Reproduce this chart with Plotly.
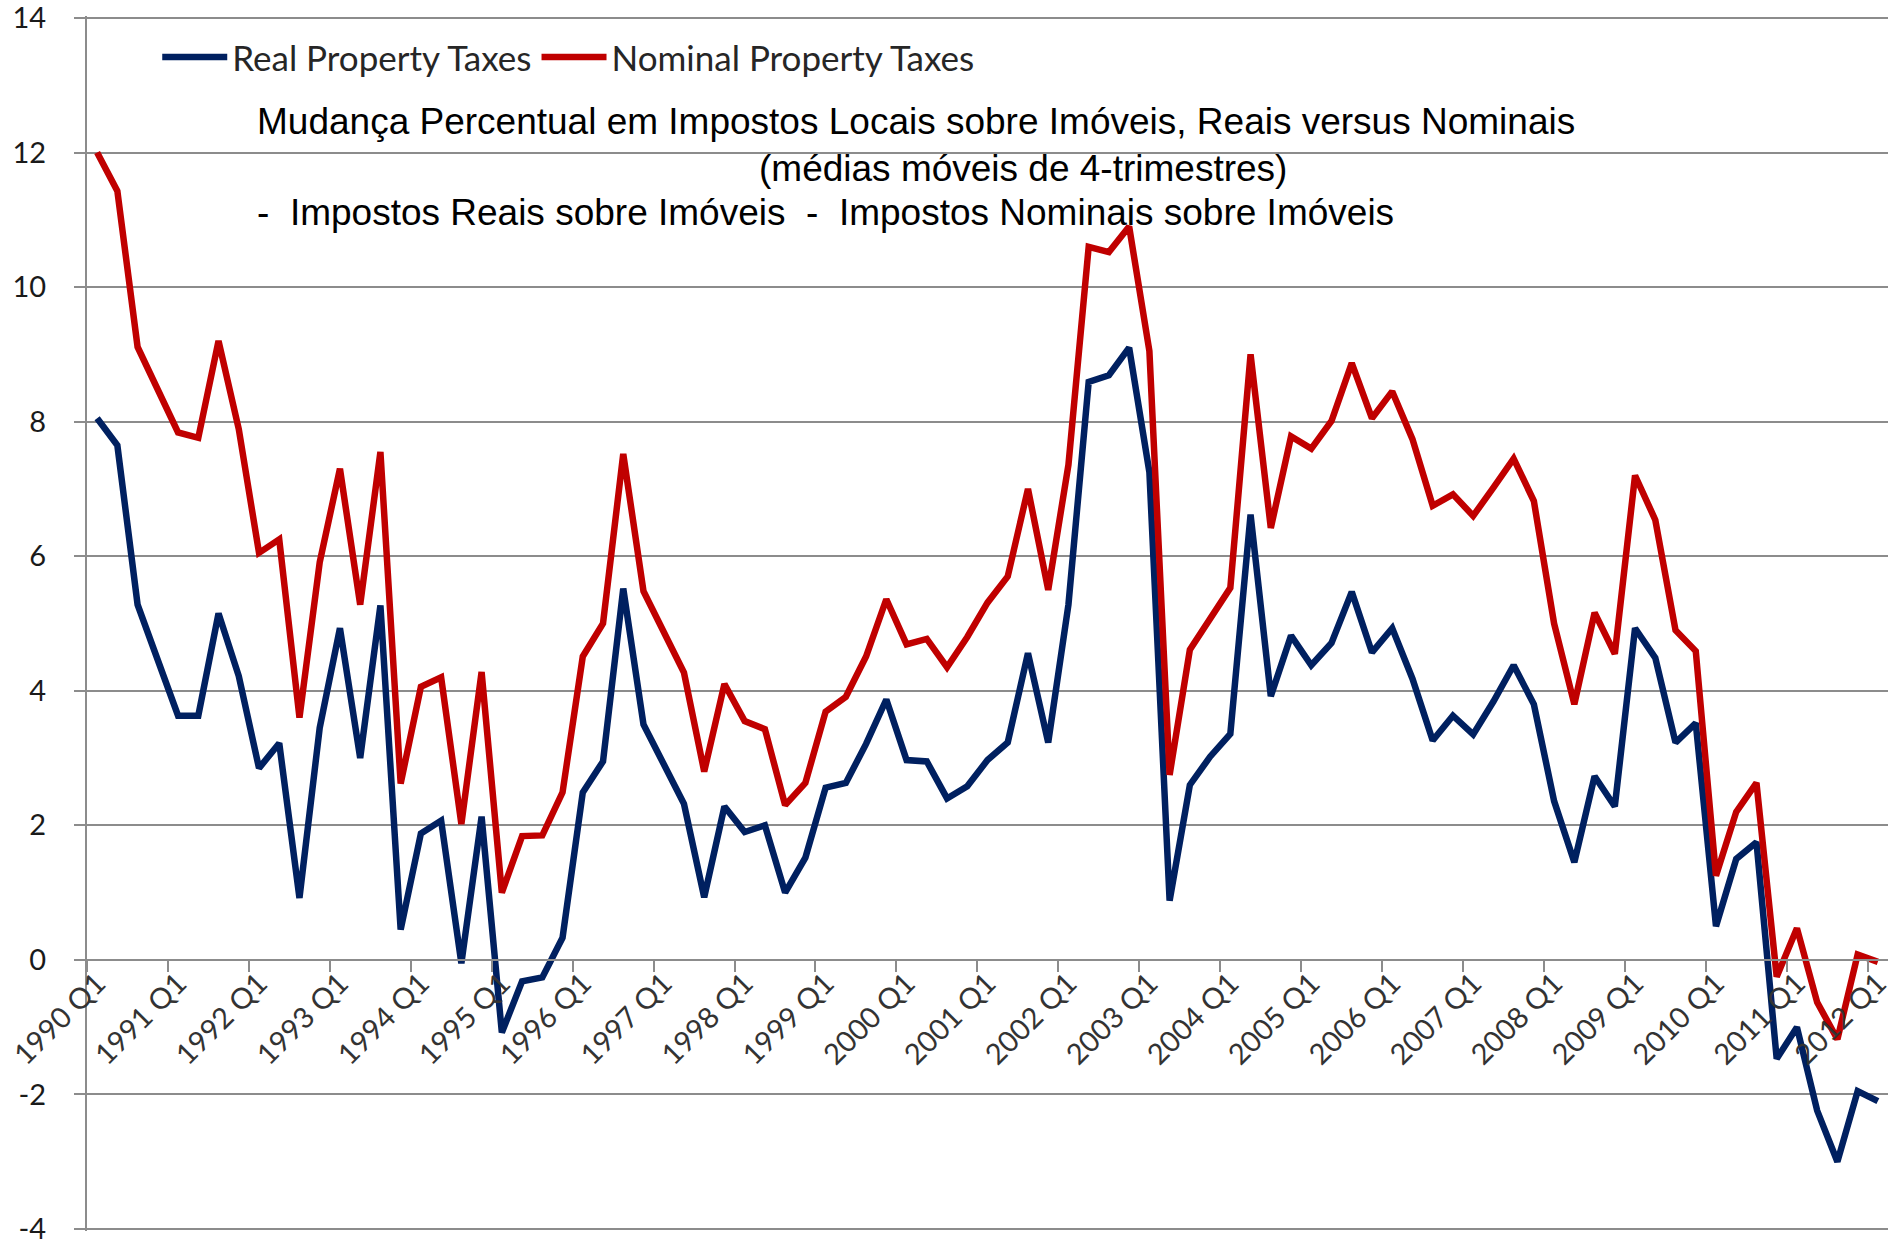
import plotly.graph_objects as go

years = list(range(1990, 2013))
quarters = [f"{y} Q{q}" for y in years for q in range(1, 5)][:89]

real = [8.05, 7.65, 5.28, 4.46, 3.63, 3.63, 5.15, 4.22, 2.85, 3.22,
        0.92, 3.45, 4.93, 3.0, 5.27, 0.45, 1.88, 2.07, -0.05, 2.13,
        -1.08, -0.32, -0.26, 0.33, 2.49, 2.95, 5.52, 3.5, 2.92, 2.32,
        0.93, 2.28, 1.9, 2.0, 1.0, 1.52, 2.56, 2.63, 3.21, 3.87,
        2.97, 2.95, 2.4, 2.58, 2.97, 3.23, 4.56, 3.23, 5.28, 8.59,
        8.69, 9.1, 7.25, 0.88, 2.6, 3.02, 3.36, 6.62, 3.92, 4.82,
        4.38, 4.71, 5.47, 4.57, 4.93, 4.18, 3.26, 3.63, 3.35, 3.84,
        4.38, 3.8, 2.36, 1.45, 2.73, 2.28, 4.93, 4.49, 3.23, 3.52,
        0.5, 1.5, 1.75, -1.47, -1.0, -2.24, -3.0, -1.95, -2.1]

nominal = [12.0, 11.43, 9.11, 8.47, 7.84, 7.76, 9.2, 7.89, 6.05, 6.25,
           3.6, 5.91, 7.3, 5.28, 7.55, 2.62, 4.06, 4.2, 2.02, 4.28,
           1.0, 1.84, 1.85, 2.49, 4.51, 5.0, 7.52, 5.48, 4.88, 4.27,
           2.8, 4.1, 3.55, 3.43, 2.3, 2.63, 3.69, 3.91, 4.51, 5.36,
           4.69, 4.77, 4.35, 4.8, 5.31, 5.7, 7.0, 5.5, 7.36, 10.6,
           10.52, 10.9, 9.05, 2.75, 4.61, 5.09, 5.53, 9.0, 6.42, 7.78,
           7.6, 8.01, 8.87, 8.05, 8.45, 7.74, 6.75, 6.92, 6.6, 7.02,
           7.45, 6.82, 5.0, 3.8, 5.16, 4.55, 7.2, 6.54, 4.9, 4.59,
           1.25, 2.2, 2.63, -0.25, 0.47, -0.63, -1.18, 0.08, -0.03]

y_ticks = [-4, -2, 0, 2, 4, 6, 8, 10, 12, 14]
y_ticktext = ["-4", "-2", "0", "2", "4", "6", "8", "10", "12", "14"]

title_lines = [
    "Mudança Percentual em Impostos Locais sobre Imóveis, Reais versus Nominais",
    "(médias móveis de 4-trimestres)",
    "-\u00a0\u00a0Impostos Reais sobre Imóveis\u00a0\u00a0-\u00a0\u00a0Impostos Nominais sobre Imóveis",
]

idx = list(range(len(quarters)))

fig = go.Figure()
fig.add_trace(go.Scatter(x=idx, y=real, mode="lines", name="Real Property Taxes",
                         line=dict(color="#002060", width=6.5)))
fig.add_trace(go.Scatter(x=idx, y=nominal, mode="lines", name="Nominal Property Taxes",
                         line=dict(color="#C00000", width=6.5)))

grid = "#8c8c8c"
y_lo, y_hi = -4.03, 14.03
fig.update_layout(
    width=1895, height=1241,
    margin=dict(l=87, r=7, t=16, b=10, autoexpand=False),
    paper_bgcolor="white", plot_bgcolor="white",
    showlegend=True,
    legend=dict(orientation="h", x=0.039, xanchor="left", y=0.966, yanchor="middle",
                font=dict(family="Lato", size=35, color="#262626"),
                bgcolor="rgba(0,0,0,0)", itemwidth=65, tracegroupgap=0),
    xaxis=dict(range=[-0.5, 88.5], tickmode="array", tickvals=idx[::4],
               ticktext=quarters[::4], tickangle=-45, ticks="",
               showgrid=False, zeroline=False, showline=True, linecolor=grid,
               linewidth=2, anchor="free", position=(0 - y_lo) / (y_hi - y_lo),
               ticklabelstandoff=-6, automargin=False,
               tickfont=dict(family="Lato", size=29, color="#333333"),
               minor=dict(tickmode="linear", tick0=-0.5, dtick=4, ticks="outside",
                          ticklen=11, tickwidth=2, tickcolor=grid, showgrid=False)),
    yaxis=dict(range=[y_lo, y_hi], tickmode="array", tickvals=y_ticks, ticktext=y_ticktext,
               showgrid=True, gridcolor=grid, gridwidth=2, zeroline=False,
               showline=True, linecolor=grid, linewidth=2,
               ticks="outside", ticklen=11, tickwidth=2, tickcolor=grid,
               ticklabelstandoff=22, ticklabeloverflow="allow", automargin=False,
               tickfont=dict(family="Lato", size=29, color="#1a1a1a")),
)

ann_pos = [(0.0933, 0.9133), (0.372, 0.8745), (0.0933, 0.8382)]
for text, (ax, ay) in zip(title_lines, ann_pos):
    fig.add_annotation(text=text, x=ax, y=ay, xref="paper", yref="paper",
                       xanchor="left", yanchor="middle", showarrow=False,
                       font=dict(family="Liberation Sans", size=37, color="black"))

fig.write_html("out.html", config={"displayModeBar": False},
               post_script="document.body.style.margin='0';")
